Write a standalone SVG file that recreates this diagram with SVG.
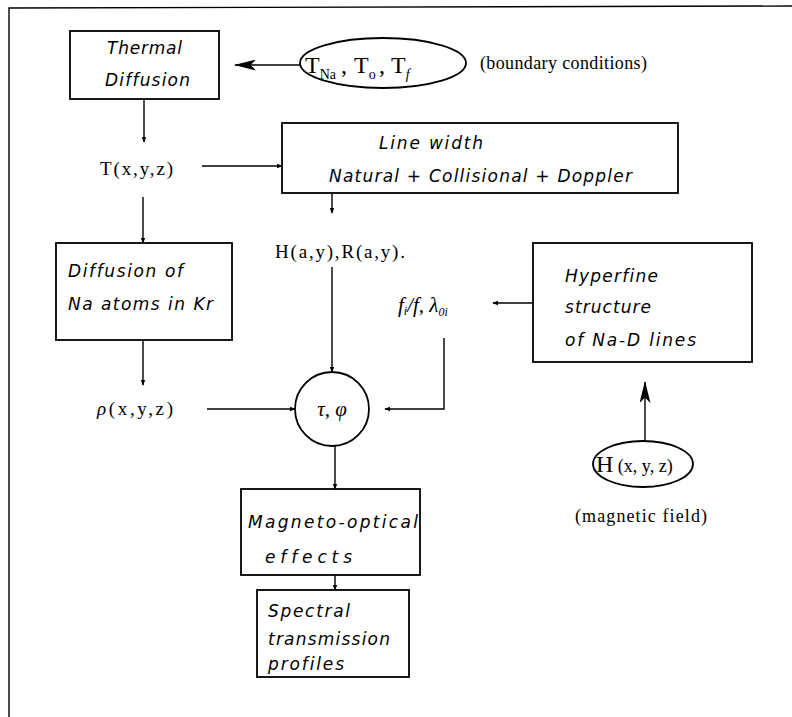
<svg xmlns="http://www.w3.org/2000/svg" width="792" height="717" viewBox="0 0 792 717">
<defs>
<style>
.box{fill:none;stroke:#000;stroke-width:1.8}
.ln{fill:none;stroke:#000;stroke-width:1.4}
.it{font-family:"DejaVu Sans",sans-serif;font-style:italic;font-size:17px;fill:#000;font-variant-ligatures:none}
.sf{font-family:"Liberation Serif",serif;fill:#000}
</style>
<marker id="sm" viewBox="0 0 8 8" refX="7" refY="4" markerWidth="6" markerHeight="6" markerUnits="userSpaceOnUse" orient="auto">
<path d="M0,1 L8,4 L0,7 Z" fill="#000"/>
</marker>
<marker id="big" viewBox="0 0 24 12" refX="23" refY="6" markerWidth="22" markerHeight="11" markerUnits="userSpaceOnUse" orient="auto">
<path d="M0,0 L24,6 L0,12 L6,6 Z" fill="#000"/>
</marker>
</defs>
<rect width="792" height="717" fill="#fff"/>
<path d="M9,717 L9,8 L792,6" class="ln" stroke-width="2"/>

<g id="thermal">
<rect x="70" y="31" width="149" height="68" class="box"/>
<text class="it" x="107" y="54" textLength="75" lengthAdjust="spacing">Thermal</text>
<text class="it" x="105" y="86" textLength="85" lengthAdjust="spacing">Diffusion</text>
</g>

<g id="boundary">
<ellipse cx="383" cy="63" rx="83" ry="25" class="box"/>
<text class="sf" style="font-size:24px" y="73"><tspan x="305">T</tspan><tspan style="font-size:14px" dy="6">Na</tspan><tspan x="341" dy="-6">,</tspan><tspan x="354">T</tspan><tspan style="font-size:14px" dy="6">o</tspan><tspan x="379" dy="-6">,</tspan><tspan x="391">T</tspan><tspan style="font-size:14px;font-style:italic" dy="6">f</tspan></text>
<text class="sf" style="font-size:18px" x="480" y="69" textLength="167" lengthAdjust="spacing">(boundary conditions)</text>
</g>

<g id="T">
<text class="sf" style="font-size:19px" x="100" y="175" textLength="73" lengthAdjust="spacing">T(x,y,z)</text>
</g>

<g id="linewidth">
<rect x="282" y="123" width="396" height="70" class="box"/>
<text class="it" x="379" y="149" textLength="104" lengthAdjust="spacing">Line width</text>
<text class="it" x="329" y="182" textLength="303" lengthAdjust="spacing">Natural + Collisional + Doppler</text>
</g>

<g id="H">
<text class="sf" style="font-size:19px" x="275" y="258" textLength="130" lengthAdjust="spacing">H(a,y),R(a,y).</text>
</g>

<g id="diffusion">
<rect x="56" y="243" width="176" height="97" class="box"/>
<text class="it" x="68" y="277" textLength="115" lengthAdjust="spacing">Diffusion of</text>
<text class="it" x="68" y="310" textLength="145" lengthAdjust="spacing">Na atoms in Kr</text>
</g>

<g id="hyperfine">
<rect x="533" y="243" width="219" height="119" class="box"/>
<text class="it" x="565" y="282" textLength="93" lengthAdjust="spacing">Hyperfine</text>
<text class="it" x="565" y="313" textLength="86" lengthAdjust="spacing">structure</text>
<text class="it" x="565" y="346" textLength="131" lengthAdjust="spacing">of Na-D lines</text>
</g>

<g id="fi">
<text class="sf" style="font-size:21px;font-style:italic" x="398" y="312">f<tspan style="font-size:12px" dy="3">i</tspan><tspan dy="-3">/f,  λ</tspan><tspan style="font-size:12px" dy="4">0i</tspan></text>
</g>

<g id="rho">
<text class="sf" style="font-size:19px" x="97" y="415" textLength="76" lengthAdjust="spacing"><tspan style="font-style:italic">ρ</tspan>(x,y,z)</text>
</g>

<g id="tauphi">
<circle cx="332" cy="409" r="37" class="box"/>
<text class="sf" style="font-size:21px;font-style:italic" x="332" y="416" text-anchor="middle">τ, φ</text>
</g>

<g id="Hxyz">
<ellipse cx="643" cy="464" rx="50" ry="23" class="box" stroke-width="2.2"/>
<text class="sf" style="font-size:24px" x="596" y="472">H<tspan style="font-size:18px"> (x, y, z)</tspan></text>
<text class="sf" style="font-size:18px" x="575" y="522" textLength="132" lengthAdjust="spacing">(magnetic field)</text>
</g>

<g id="magneto">
<rect x="241" y="489" width="179" height="86" class="box"/>
<text class="it" x="248" y="528" textLength="170" lengthAdjust="spacing">Magneto-optical</text>
<text class="it" x="265" y="563" textLength="87" lengthAdjust="spacing">effects</text>
</g>

<g id="spectral">
<rect x="257" y="590" width="152" height="87" class="box"/>
<text class="it" x="268" y="617" textLength="82" lengthAdjust="spacing">Spectral</text>
<text class="it" x="268" y="645" textLength="122" lengthAdjust="spacing">transmission</text>
<text class="it" x="268" y="670" textLength="76" lengthAdjust="spacing">profiles</text>
</g>

<g id="connectors">
<line x1="300" y1="65" x2="235" y2="65" class="ln" marker-end="url(#big)"/>
<line x1="144" y1="99" x2="144" y2="142" class="ln" marker-end="url(#sm)"/>
<line x1="202" y1="166" x2="282" y2="166" class="ln" marker-end="url(#sm)"/>
<line x1="143" y1="197" x2="143" y2="243" class="ln" marker-end="url(#sm)"/>
<line x1="332" y1="193" x2="332" y2="213" class="ln" marker-end="url(#sm)"/>
<line x1="332" y1="267" x2="332" y2="372" class="ln" marker-end="url(#sm)"/>
<line x1="143" y1="340" x2="143" y2="385" class="ln" marker-end="url(#sm)"/>
<line x1="207" y1="409" x2="295" y2="409" class="ln" marker-end="url(#sm)"/>
<line x1="533" y1="303" x2="493" y2="303" class="ln" marker-end="url(#sm)"/>
<polyline points="444,338 444,409 385,409" class="ln" marker-end="url(#sm)"/>
<line x1="335" y1="446" x2="335" y2="489" class="ln" marker-end="url(#sm)"/>
<line x1="335" y1="575" x2="335" y2="590" class="ln" marker-end="url(#sm)"/>
<line x1="645" y1="441" x2="645" y2="382" class="ln" stroke-width="1.8" marker-end="url(#big)"/>
</g>
</svg>
